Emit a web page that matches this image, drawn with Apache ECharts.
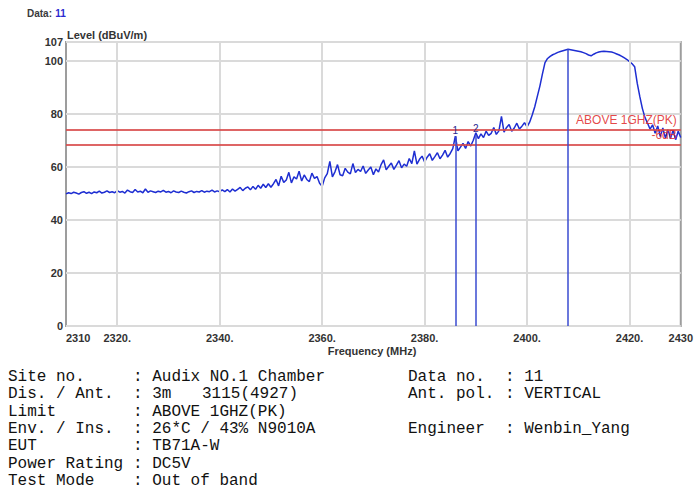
<!DOCTYPE html>
<html><head><meta charset="utf-8">
<script src="https://cdn.jsdelivr.net/npm/echarts@6/dist/echarts.min.js"></script>
<style>html,body{margin:0;padding:0;background:#fff}#c{width:696px;height:495px}</style>
</head><body><div id="c"></div>
<script>
// ---- data ----
const freqStart = 2310;   // MHz, first trace point
const freqStep = 0.5;     // MHz between trace points
const levels = [
  // 2310.0 - 2320.0
  49.8,50.2,49.9,50.4,50.1,49.7,50.3,50.6,50.0,50.4,49.9,50.5,50.2,50.8,50.1,50.4,50.9,50.3,50.6,50.2,51.0,
  // 2320.5 - 2330.0
  50.4,50.7,50.1,51.2,50.6,50.3,51.4,50.5,50.8,50.2,51.6,50.4,50.9,50.6,50.3,50.8,50.5,51.1,50.4,50.7,
  // 2330.5 - 2340.0
  50.2,50.9,50.5,50.3,50.8,50.4,50.1,50.6,50.9,50.3,50.7,50.5,51.0,50.4,50.8,50.6,51.2,50.5,50.9,50.6,
  // 2340.5 - 2350.0
  51.3,50.6,51.4,50.5,51.6,50.8,51.5,52.2,51.0,51.9,52.4,51.3,52.6,51.5,53.0,51.9,53.4,52.2,53.6,52.3,
  // 2350.5 - 2360.0
  53.6,55.2,52.8,56.4,54.1,55.0,57.9,53.9,56.2,55.4,58.3,54.6,56.9,55.2,54.4,57.6,55.6,56.3,53.8,52.6,
  // 2360.5 - 2370.0
  55.8,57.4,62.0,56.2,58.1,60.8,57.0,56.6,59.4,58.0,57.3,61.2,57.8,59.0,58.2,60.3,57.5,58.8,59.9,57.0,
  // 2370.5 - 2380.0
  59.2,58.0,60.8,62.6,58.8,60.2,61.4,59.0,60.6,62.3,59.6,61.0,60.2,63.1,61.2,66.0,61.0,62.8,64.0,61.8,
  // 2380.5 - 2390.0
  63.6,64.9,62.4,63.8,65.3,63.0,64.4,66.2,63.6,65.0,66.8,71.5,66.0,67.4,68.8,66.9,69.5,67.8,70.0,72.8,
  // 2390.5 - 2400.0
  70.6,72.4,71.0,73.4,71.8,72.6,74.8,72.2,73.5,79.0,73.0,74.8,75.9,73.4,74.6,76.4,74.2,75.3,76.6,75.0,
  // 2400.5 - 2410.0
  76.8,79.5,82.6,86.5,90.4,95.0,99.2,100.8,101.6,102.2,102.6,103.1,103.4,103.7,104.0,104.3,104.1,103.9,103.7,103.5,
  // 2410.5 - 2420.0
  103.3,103.0,102.6,102.1,101.8,102.4,102.9,103.2,103.4,103.5,103.4,103.3,103.2,102.9,102.5,102.1,101.6,101.0,100.4,99.6,
  // 2420.5 - 2430.0
  98.8,97.7,91.5,86.5,82.0,78.6,76.5,74.2,75.8,72.6,75.4,71.4,74.6,70.8,74.0,70.6,73.8,70.2,73.4,71.0
];
const xTickValues = [2310, 2320, 2340, 2360, 2380, 2400, 2420, 2430];
const xTickLabels = ['2310', '2320.', '2340.', '2360.', '2380.', '2400.', '2420.', '2430'];
const xGridValues = [2320, 2340, 2360, 2380, 2400, 2420];
const yMin = 0, yMax = 107, yInterval = 20;
const limitValues = [74, 68.2];
const limitLabels = ['ABOVE 1GHZ(PK)', '-6dB'];
const markerFreqs = [2386.0, 2390.0, 2408.0];
const markerLevels = [71.5, 72.0, 104.3];
const markerNames = ['1', '2', ''];

const infoLeftLabels = ['Site no.', 'Dis. / Ant.', 'Limit', 'Env. / Ins.', 'EUT', 'Power Rating', 'Test Mode'];
const infoLeftValues = [': Audix NO.1 Chamber', ': 3m', ': ABOVE 1GHZ(PK)', ': 26*C / 43% N9010A', ': TB71A-W', ': DC5V', ': Out of band'];
const infoRightLabels = ['Data no.', 'Ant. pol.', '', 'Engineer', '', '', ''];
const infoRightValues = [': 11', ': VERTICAL', '', ': Wenbin_Yang', '', '', ''];

// ---- chart ----
const chart = echarts.init(document.getElementById('c'), null, {renderer: 'svg'});
const traceData = levels.map((v, i) => [freqStart + i * freqStep, v]);
const sansFont = '"Liberation Sans", Arial, sans-serif';
const monoFont = '"Liberation Mono", "DejaVu Sans Mono", monospace';

const graphics = [
  {type: 'text', x: 27, y: 13, style: {
    text: '{a|Data:} {b|11}', verticalAlign: 'middle',
    rich: {
      a: {fontSize: 10, fontWeight: 'bold', fill: '#3a3a3a', fontFamily: sansFont},
      b: {fontSize: 10, fontWeight: 'bold', fill: '#2a2ad0', fontFamily: sansFont}
    }}},
  {type: 'text', x: 67, y: 35, style: {text: 'Level (dBuV/m)', fontSize: 11, fontWeight: 'bold',
    fill: '#333', fontFamily: sansFont, verticalAlign: 'middle'}},
  {type: 'text', x: 372, y: 351, style: {text: 'Frequency (MHz)', fontSize: 11, fontWeight: 'bold',
    fill: '#333', fontFamily: sansFont, align: 'center', verticalAlign: 'middle'}}
];
const rowY0 = 377, rowDy = 17.3;
infoLeftLabels.forEach((t, i) => {
  const y = rowY0 + i * rowDy;
  graphics.push({type: 'text', x: 8, y: y, style: {text: t, fontSize: 16, fill: '#111', fontFamily: monoFont, verticalAlign: 'middle'}});
  graphics.push({type: 'text', x: 133, y: y, style: {text: infoLeftValues[i], fontSize: 16, fill: '#111', fontFamily: monoFont, verticalAlign: 'middle'}});
  if (infoRightLabels[i]) {
    graphics.push({type: 'text', x: 408, y: y, style: {text: infoRightLabels[i], fontSize: 16, fill: '#111', fontFamily: monoFont, verticalAlign: 'middle'}});
    graphics.push({type: 'text', x: 505, y: y, style: {text: infoRightValues[i], fontSize: 16, fill: '#111', fontFamily: monoFont, verticalAlign: 'middle'}});
  }
});
graphics.push({type: 'text', x: 202, y: rowY0 + rowDy, style: {text: '3115(4927)', fontSize: 16, fill: '#111', fontFamily: monoFont, verticalAlign: 'middle'}});

const option = {
  animation: false,
  backgroundColor: '#fff',
  grid: {left: 66, right: 15, top: 42, bottom: 169, show: true, borderColor: '#9d9d9d', borderWidth: 2, backgroundColor: '#fff'},
  xAxis: {
    type: 'value', min: 2310, max: 2430,
    axisLine: {show: false}, axisTick: {show: false, customValues: xTickValues},
    splitLine: {show: false},
    axisLabel: {
      customValues: xTickValues,
      formatter: v => { const k = xTickValues.indexOf(v); return k >= 0 ? xTickLabels[k] : ''; },
      fontSize: 11, fontWeight: 'bold', color: '#333', fontFamily: sansFont, margin: 6,
      showMinLabel: true, showMaxLabel: true, alignMinLabel: 'left'
    }
  },
  yAxis: {
    type: 'value', min: yMin, max: yMax, interval: yInterval,
    axisLine: {show: false}, axisTick: {show: false},
    splitLine: {show: true, lineStyle: {color: '#dadada', width: 2}},
    axisLabel: {fontSize: 11, fontWeight: 'bold', color: '#333', fontFamily: sansFont, margin: 3,
      showMinLabel: true, showMaxLabel: true}
  },
  graphic: graphics,
  series: [
    {
      type: 'line', name: 'grid', data: [], z: 1, silent: true,
      markLine: {silent: true, symbol: 'none', animation: false,
        lineStyle: {color: '#dadada', width: 2, type: 'solid'}, label: {show: false},
        data: xGridValues.map(v => ({xAxis: v}))}
    },
    {
      type: 'line', name: 'limits', data: [], z: 2, silent: true,
      markLine: {silent: true, symbol: 'none', animation: false,
        lineStyle: {color: '#d84a4a', width: 2, type: 'solid', opacity: 0.85},
        label: {show: true, position: 'insideEndTop', formatter: '{b}', color: '#e02828',
          fontSize: 12, fontFamily: sansFont, distance: 4},
        data: limitValues.map((v, i) => ({yAxis: v, name: limitLabels[i]}))}
    },
    {
      type: 'line', name: 'trace', data: traceData, z: 3, showSymbol: false, symbol: 'none',
      lineStyle: {color: '#1e2ed2', width: 1.5}
    },
    {
      type: 'line', name: 'markers', data: [], z: 5, silent: true,
      markLine: {silent: true, symbol: 'none', animation: false,
        lineStyle: {color: '#3a4bd0', width: 1.5, type: 'solid'},
        label: {show: true, position: 'end', formatter: '{b}', color: '#2a2a90', fontSize: 10,
          fontFamily: sansFont, distance: 1},
        labelLayout: {hideOverlap: false},
        data: markerFreqs.map((f, i) => [{coord: [f, 0], name: markerNames[i]}, {coord: [f, markerLevels[i]]}])}
    }
  ]
};
chart.setOption(option);
</script></body></html>
